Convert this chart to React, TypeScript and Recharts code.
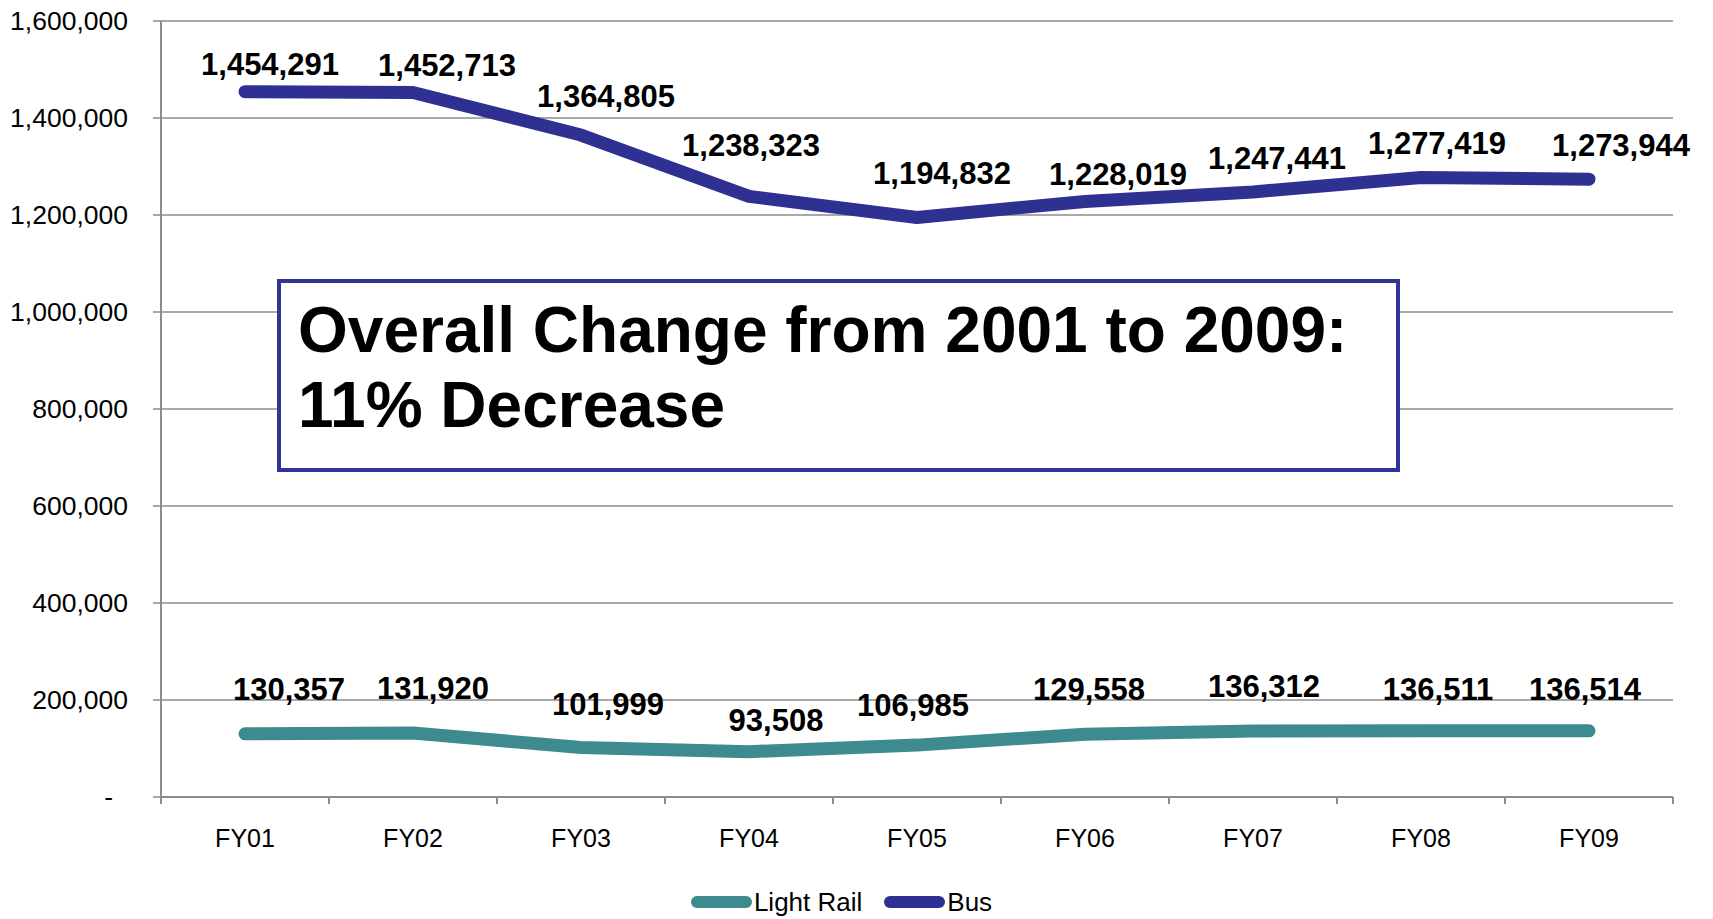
import React from "react";
import {
  LineChart,
  Line,
  XAxis,
  YAxis,
  CartesianGrid,
  Legend,
  LabelList,
} from "recharts";

const categories = ["FY01", "FY02", "FY03", "FY04", "FY05", "FY06", "FY07", "FY08", "FY09"];
const lightRail = [130357, 131920, 101999, 93508, 106985, 129558, 136312, 136511, 136514];
const bus = [1454291, 1452713, 1364805, 1238323, 1194832, 1228019, 1247441, 1277419, 1273944];
const yTicks = [0, 200000, 400000, 600000, 800000, 1000000, 1200000, 1400000, 1600000];

// label nudges (px) so the value labels sit where the original put them
const busDx = [25, 34, 25, 2, 25, 33, 24, 16, 32];
const busDy = [-28, -28, -39, -52, -45, -28, -34, -35, -34];
const railDx = [44, 20, 27, 27, -4, 4, 11, 17, -4];
const railDy = [-45, -45, -44, -32, -40, -45, -45, -42, -42];

const FONT = "'Liberation Sans', Arial, sans-serif";
const BUS_COLOR = "#2E3192";
const RAIL_COLOR = "#3D8B8F";
const GRID = "#8C8C8C";

const data = categories.map((fy, i) => ({
  i,
  fy,
  lightRail: lightRail[i],
  bus: bus[i],
}));

const xTicks: number[] = [];
for (let k = 0; k <= categories.length * 2; k++) xTicks.push(-0.5 + k / 2);

const fmt = (v: number) => v.toLocaleString("en-US");

const makeLabel =
  (dxs: number[], dys: number[]) =>
  (props: any) => {
    const { x, y, value, index } = props;
    return (
      <text
        x={x + dxs[index]}
        y={y + dys[index]}
        dy="0.36em"
        textAnchor="middle"
        fontFamily={FONT}
        fontWeight="bold"
        fontSize={31}
        fill="#000"
      >
        {fmt(value)}
      </text>
    );
  };

const XTick = (props: any) => {
  const { x, y, payload } = props;
  const v = payload.value;
  if (Math.abs(v - Math.round(v)) > 0.01) {
    // category boundary: tick mark only
    return <line x1={x} x2={x} y1={y - 32} y2={y - 25} stroke={GRID} strokeWidth={2} />;
  }
  return (
    <text x={x} y={y} dy="0.71em" textAnchor="middle" fontFamily={FONT} fontSize={25} fill="#000">
      {categories[Math.round(v)]}
    </text>
  );
};

const YTick = (props: any) => {
  const { x, y, payload } = props;
  const v = payload.value;
  return (
    <text
      x={v === 0 ? x - 15 : x}
      y={y}
      dy="0.355em"
      textAnchor="end"
      fontFamily={FONT}
      fontSize={26.5}
      fill="#000"
    >
      {v === 0 ? "-" : fmt(v)}
    </text>
  );
};

const LegendContent = () => {
  const items = [
    { name: "Light Rail", color: RAIL_COLOR },
    { name: "Bus", color: BUS_COLOR },
  ];
  return (
    <div
      style={{
        height: 34,
        display: "flex",
        justifyContent: "center",
        alignItems: "center",
        paddingLeft: 10,
        fontFamily: FONT,
        fontSize: 26,
        color: "#000",
      }}
    >
      {items.map((it, k) => (
        <div key={it.name} style={{ display: "flex", alignItems: "center", marginLeft: k ? 22 : 0 }}>
          <div style={{ width: 61, height: 12, borderRadius: 6, background: it.color, marginRight: 2 }} />
          <span>{it.name}</span>
        </div>
      ))}
    </div>
  );
};

export default function App() {
  return (
    <div style={{ position: "absolute", left: 0, top: 0, width: 1713, height: 919, background: "#fff" }}>
      <LineChart width={1713} height={919} data={data} margin={{ top: 21, right: 40, left: 0, bottom: 0 }}>
        <CartesianGrid vertical={false} stroke={GRID} strokeWidth={1.5} />
        <XAxis
          dataKey="i"
          type="number"
          domain={[-0.5, 8.5]}
          ticks={xTicks}
          interval={0}
          allowDataOverflow
          height={88}
          tickLine={false}
          tickSize={7}
          tickMargin={25}
          axisLine={{ stroke: GRID, strokeWidth: 2 }}
          tick={<XTick />}
        />
        <YAxis
          domain={[0, 1600000]}
          ticks={yTicks}
          interval={0}
          width={161}
          tickSize={8}
          tickMargin={25}
          tickLine={{ stroke: GRID, strokeWidth: 1.5 }}
          axisLine={{ stroke: GRID, strokeWidth: 2 }}
          tick={<YTick />}
        />
        <Legend verticalAlign="bottom" content={<LegendContent />} />
        <Line
          dataKey="lightRail"
          name="Light Rail"
          stroke={RAIL_COLOR}
          strokeWidth={13}
          strokeLinecap="round"
          strokeLinejoin="round"
          dot={false}
          activeDot={false}
          isAnimationActive={false}
        >
          <LabelList dataKey="lightRail" content={makeLabel(railDx, railDy)} />
        </Line>
        <Line
          dataKey="bus"
          name="Bus"
          stroke={BUS_COLOR}
          strokeWidth={13}
          strokeLinecap="round"
          strokeLinejoin="round"
          dot={false}
          activeDot={false}
          isAnimationActive={false}
        >
          <LabelList dataKey="bus" content={makeLabel(busDx, busDy)} />
        </Line>
      </LineChart>
      <div
        style={{
          position: "absolute",
          left: 277,
          top: 279,
          width: 1123,
          height: 193,
          boxSizing: "border-box",
          border: "4px solid #33339C",
          background: "#fff",
          padding: "10px 0 0 17px",
          fontFamily: FONT,
          fontWeight: "bold",
          fontSize: 64,
          lineHeight: "75px",
          color: "#000",
        }}
      >
        Overall Change from 2001 to 2009:
        <br />
        11% Decrease
      </div>
    </div>
  );
}
